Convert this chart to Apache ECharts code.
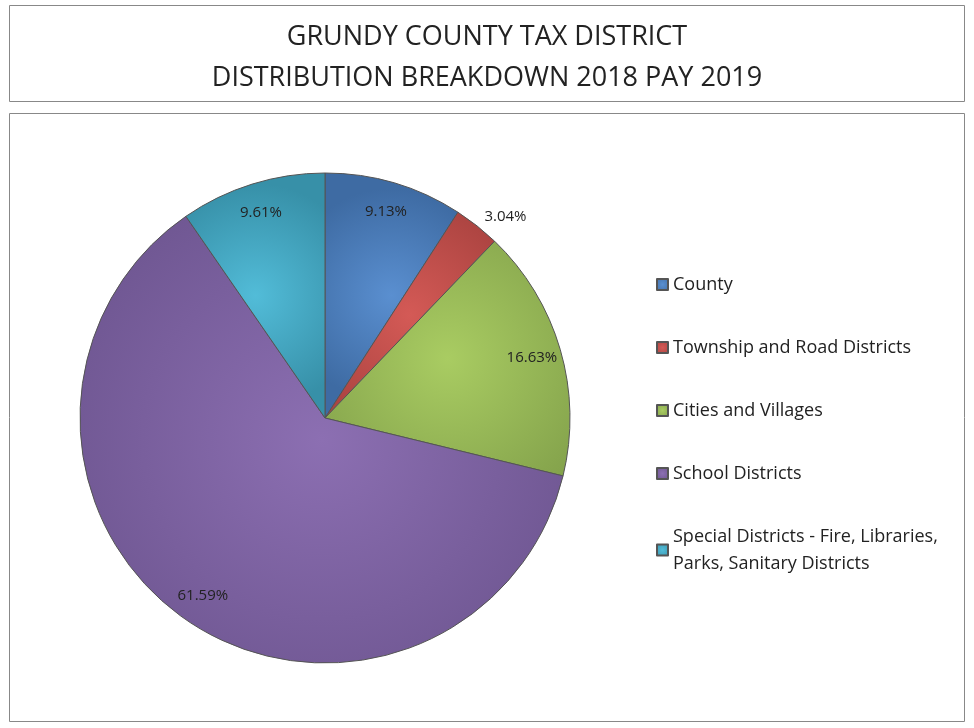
<!DOCTYPE html>
<html><head><meta charset="utf-8">
<script src="https://cdn.jsdelivr.net/npm/echarts@6/dist/echarts.min.js"></script>
<style>html,body{margin:0;padding:0;background:#fff}#c{width:974px;height:728px}</style>
</head><body><div id="c"></div>
<script>
const categories = ["County","Township and Road Districts","Cities and Villages","School Districts","Special Districts - Fire, Libraries,\nParks, Sanitary Districts"];
const values = [9.13, 3.04, 16.63, 61.59, 9.61];
const colors = ["#5A8FD0","#D45A56","#A9CC62","#8C6FB2","#52BCD8"];
const dark = ["#3E6BA3","#A5403D","#7E9C48","#664F88","#3790A8"];
const chart = echarts.init(document.getElementById('c'));
const grad = i => new echarts.graphic.RadialGradient(0.5,0.5,0.8,[{offset:0,color:colors[i]},{offset:1,color:dark[i]}]);
chart.setOption({
  animation:false,
  graphic:[
    {type:'rect',shape:{x:9.5,y:5.5,width:955,height:96},style:{fill:'#fff',stroke:'#888',lineWidth:1}},
    {type:'rect',shape:{x:9.5,y:113.5,width:955,height:608},style:{fill:'#fff',stroke:'#888',lineWidth:1},z:-1}
  ],
  title:{text:'GRUNDY COUNTY TAX DISTRICT\nDISTRIBUTION BREAKDOWN 2018 PAY 2019',left:'center',top:12,
    textStyle:{fontFamily:'Open Sans',fontWeight:'normal',fontSize:27,color:'#222',lineHeight:41}},
  legend:{orient:'vertical',left:651,top:266,itemGap:36,itemWidth:11,itemHeight:11,icon:'rect',
    textStyle:{fontFamily:'Open Sans',fontSize:18,color:'#222',lineHeight:27},
    data:categories},
  series:[
    {type:'pie',center:[325,418],radius:[0,245],startAngle:90,clockwise:true,
     itemStyle:{borderColor:'#555',borderWidth:1},
     label:{show:false},labelLine:{show:false},
     data:categories.map((n,i)=>({name:n,value:values[i],itemStyle:{color:grad(i)}}))},
    {type:'pie',center:[325,418],radius:[170,255],startAngle:90,clockwise:true,silent:true,legendHoverLink:false,
     itemStyle:{color:'transparent',borderWidth:0},
     label:{show:true,position:'inside',formatter:p=>values[p.dataIndex].toFixed(2)+'%',
       fontFamily:'Open Sans',fontSize:15,color:'#222'},
     labelLine:{show:false},
     data:categories.map((n,i)=>({name:'_'+i,value:values[i],
       label:i===1?{position:'outside',distanceToLabelLine:0}:undefined,
       labelLine:{show:false,length:2,length2:0}}))}
  ]
});
</script></body></html>
